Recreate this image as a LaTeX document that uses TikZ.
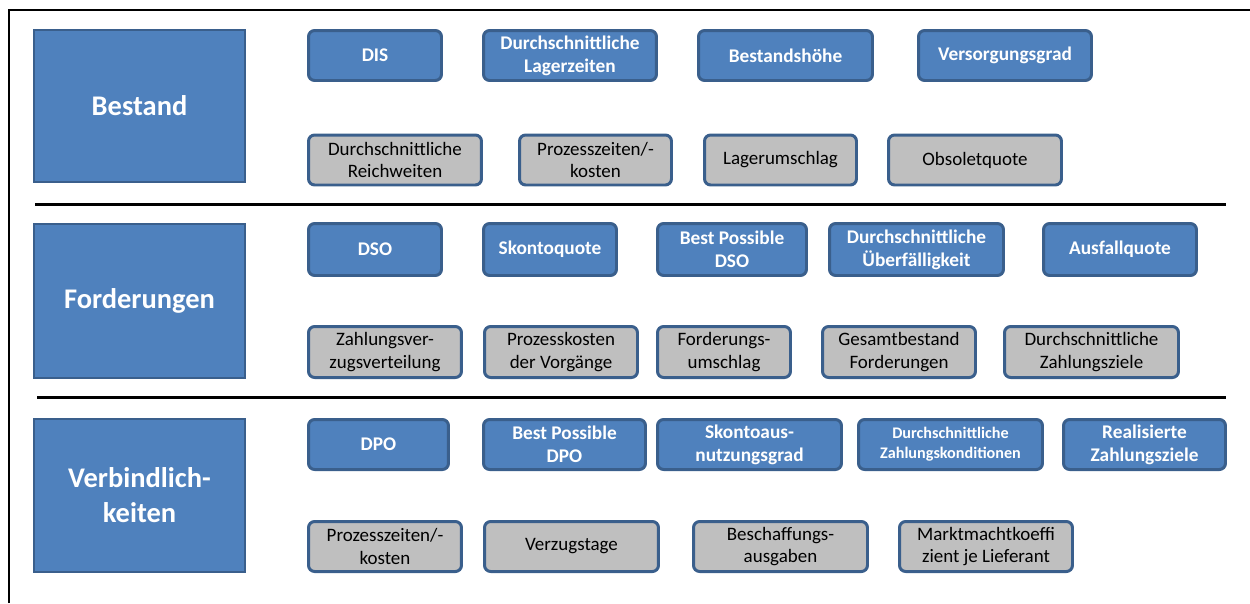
\documentclass[tikz,border=0pt]{standalone}
\usepackage{fontspec}
\setmainfont{Carlito}
\usepackage{tikz}

\definecolor{kpiblue}{HTML}{4F81BD}
\definecolor{kpiedge}{HTML}{3A5F8C}
\definecolor{kpigray}{HTML}{BFBFBF}

\tikzset{
    area/.style={draw=kpiedge, line width=1.2pt, fill=kpiblue, text=white,
        align=center, minimum width=4.22cm,
        font=\bfseries\fontsize{16.2}{20}\selectfont},
    main kpi/.style={draw=kpiedge, line width=1.7pt, rounded corners=3.5pt,
        fill=kpiblue, text=white, align=center, inner sep=1pt,
        font=\bfseries\fontsize{11}{13}\selectfont},
    side kpi/.style={draw=kpiedge, line width=1.7pt, rounded corners=3.5pt,
        fill=kpigray, text=black, align=center, inner sep=1pt,
        font=\fontsize{10.8}{13}\selectfont},
    divider/.style={line width=1.7pt, black}
}

\begin{document}
\begin{tikzpicture}[x=0.02cm,y=-0.02cm]
    \useasboundingbox (0,0) rectangle (1250,603);

    % frame and section dividers
    \draw[line width=1.2pt] (9,603) -- (9,10) -- (1250,10);
    \draw[divider] (35,204) -- (1226,204);
    \draw[divider] (37,397) -- (1226,397);

    % Bestand
    \node[area, minimum height=3.04cm] (bestand) at (139.5,106) {Bestand};
    \node[main kpi, minimum width=2.66cm, minimum height=1.0cm] (dis) at (375,55.5) {DIS};
    \node[main kpi, minimum width=3.46cm, minimum height=1.0cm] (lagerzeit) at (570,55.5) {Durchschnittliche\\Lagerzeiten};
    \node[main kpi, minimum width=3.48cm, minimum height=1.0cm] (hoehe) at (785.5,55.5) {Bestandshöhe};
    \node[main kpi, minimum width=3.46cm, minimum height=1.0cm] (versorgung) at (1005,55.5) {Versorgungsgrad};
    \node[side kpi, minimum width=3.46cm, minimum height=1.0cm] (reichweite) at (395,160) {Durchschnittliche\\Reichweiten};
    \node[side kpi, minimum width=3.04cm, minimum height=1.0cm] (prozessB) at (595.5,160) {Prozesszeiten/-\\kosten};
    \node[side kpi, minimum width=3.04cm, minimum height=1.0cm] (umschlag) at (780.5,160) {Lagerumschlag};
    \node[side kpi, minimum width=3.46cm, minimum height=1.0cm] (obsolet) at (975,160) {Obsoletquote};

    % Forderungen
    \node[area, minimum height=3.08cm] (forderungen) at (139.5,301) {Forderungen};
    \node[main kpi, minimum width=2.66cm, minimum height=1.04cm] (dso) at (375,249.5) {DSO};
    \node[main kpi, minimum width=2.66cm, minimum height=1.04cm] (skonto) at (550,249.5) {Skontoquote};
    \node[main kpi, minimum width=2.98cm, minimum height=1.04cm] (bpdso) at (732,249.5) {Best Possible\\DSO};
    \node[main kpi, minimum width=3.48cm, minimum height=1.04cm] (ueberf) at (916.5,249.5) {Durchschnittliche\\Überfälligkeit};
    \node[main kpi, minimum width=3.06cm, minimum height=1.04cm] (ausfall) at (1120,249.5) {Ausfallquote};
    \node[side kpi, minimum width=3.06cm, minimum height=1.02cm] (verzug) at (385,352) {Zahlungsver-\\zugsverteilung};
    \node[side kpi, minimum width=3.06cm, minimum height=1.02cm] (prozessF) at (561,352) {Prozesskosten\\der Vorgänge};
    \node[side kpi, minimum width=2.66cm, minimum height=1.02cm] (fumschlag) at (724,352) {Forderungs-\\umschlag};
    \node[side kpi, minimum width=3.06cm, minimum height=1.02cm] (gesamt) at (899,352) {Gesamtbestand\\Forderungen};
    \node[side kpi, minimum width=3.48cm, minimum height=1.02cm] (ziele) at (1091.5,352) {Durchschnittliche\\Zahlungsziele};

    % Verbindlichkeiten
    \node[area, minimum height=3.06cm] (verbindl) at (139.5,495.5) {Verbindlich-\\keiten};
    \node[main kpi, minimum width=2.80cm, minimum height=1.0cm] (dpo) at (378.5,444.5) {DPO};
    \node[main kpi, minimum width=3.24cm, minimum height=1.0cm] (bpdpo) at (564.5,444.5) {Best Possible\\DPO};
    \node[main kpi, minimum width=3.68cm, minimum height=1.0cm] (ausnutzung) at (749.5,444.5) {Skontoaus-\\nutzungsgrad};
    \node[main kpi, minimum width=3.68cm, minimum height=1.0cm, font=\bfseries\fontsize{9.2}{11.5}\selectfont] (konditionen) at (950.5,444.5) {Durchschnittliche\\Zahlungskonditionen};
    \node[main kpi, minimum width=3.24cm, minimum height=1.0cm] (realziele) at (1144.5,444.5) {Realisierte\\Zahlungsziele};
    \node[side kpi, minimum width=3.06cm, minimum height=1.0cm] (prozessV) at (385,546.5) {Prozesszeiten/-\\kosten};
    \node[side kpi, minimum width=3.48cm, minimum height=1.0cm] (verzugstage) at (571.5,546.5) {Verzugstage};
    \node[side kpi, minimum width=3.48cm, minimum height=1.0cm] (ausgaben) at (780.5,546.5) {Beschaffungs-\\ausgaben};
    \node[side kpi, minimum width=3.46cm, minimum height=1.0cm] (marktmacht) at (986,546.5) {Marktmachtkoeffi\\zient je Lieferant};
\end{tikzpicture}
\end{document}
